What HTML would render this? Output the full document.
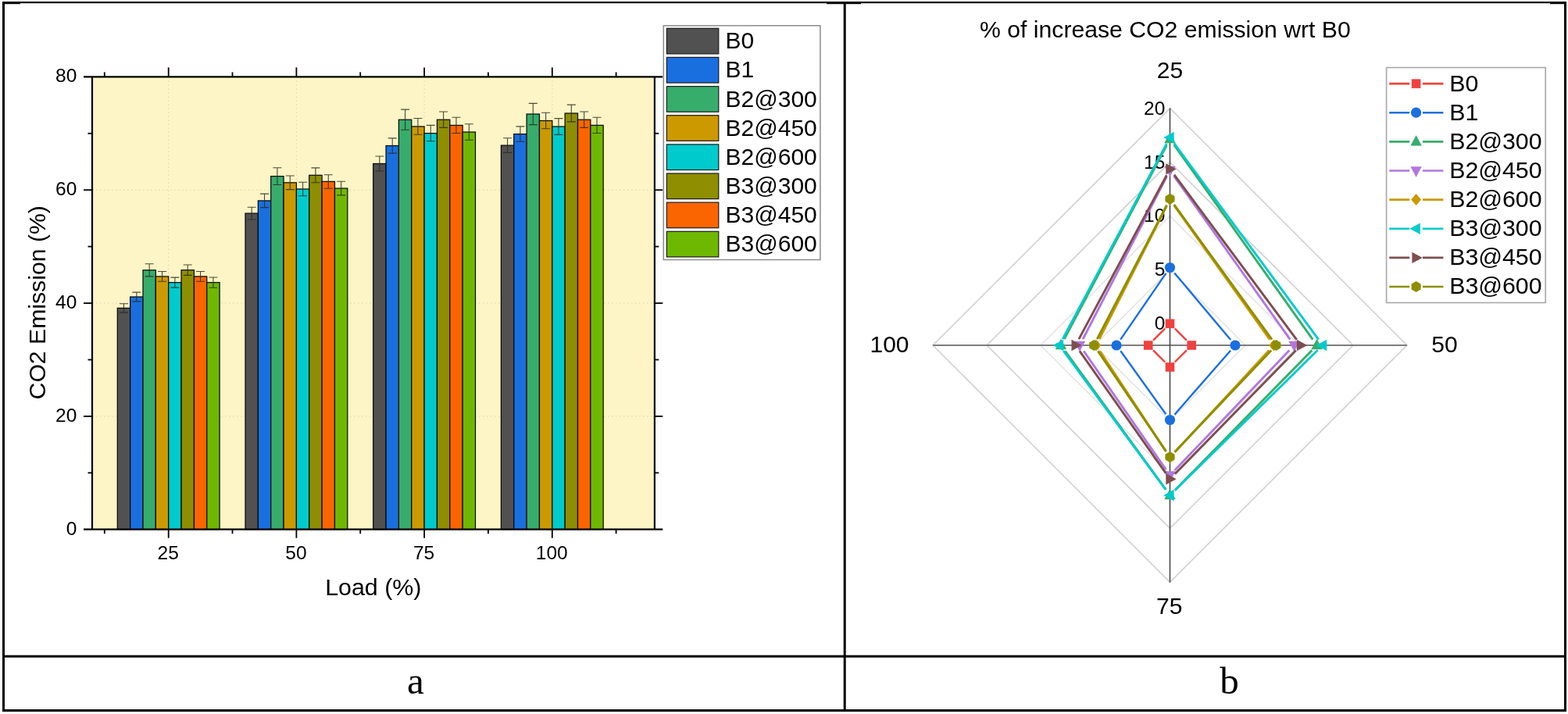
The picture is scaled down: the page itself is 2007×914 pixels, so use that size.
<!DOCTYPE html>
<html lang="en"><head><meta charset="utf-8"><title>CO2 emission charts</title>
<style>html,body{margin:0;padding:0;background:#fff;}body{width:2007px;height:914px;overflow:hidden;}svg{display:block;}text{font-family:"Liberation Sans",Arial,sans-serif;fill:#000;}.ser{font-family:"Liberation Serif","Times New Roman",serif;}</style></head><body>
<svg width="2007" height="914" viewBox="0 0 2007 914">
<rect x="0" y="0" width="2007" height="914" fill="#ffffff"/>
<g id="frame" fill="#000">
<rect x="3" y="2" width="2002" height="2.2"/>
<rect x="3" y="2" width="23" height="3.2"/>
<rect x="1058" y="2" width="44" height="3.2"/>
<rect x="1984" y="2" width="21" height="3.2"/>
<rect x="3" y="2" width="3" height="909"/>
<rect x="2002" y="2" width="3" height="909"/>
<rect x="1079.7" y="2" width="3" height="909"/>
<rect x="3" y="838.7" width="2002" height="3"/>
<rect x="3" y="908" width="2002" height="3"/>
</g>
<g id="bar-chart">
<rect x="118.0" y="98.4" width="719.9" height="579.3" fill="#fef5c6"/>
<g stroke="#d9d2b4" stroke-width="1" stroke-dasharray="1.5 3.5" fill="none">
<line x1="215.7" y1="98.4" x2="215.7" y2="677.7"/>
<line x1="379.4" y1="98.4" x2="379.4" y2="677.7"/>
<line x1="543.1" y1="98.4" x2="543.1" y2="677.7"/>
<line x1="706.8" y1="98.4" x2="706.8" y2="677.7"/>
<line x1="118.0" y1="532.9" x2="837.9" y2="532.9"/>
<line x1="118.0" y1="388.1" x2="837.9" y2="388.1"/>
<line x1="118.0" y1="243.2" x2="837.9" y2="243.2"/>
</g>
<g stroke="#0a0a0a" stroke-width="1.25">
<rect x="150.30" y="394.4" width="16.35" height="283.3" fill="#515151"/>
<rect x="166.65" y="380.0" width="16.35" height="297.7" fill="#1a6fdf"/>
<rect x="183.00" y="345.8" width="16.35" height="331.9" fill="#37ad6b"/>
<rect x="199.35" y="353.9" width="16.35" height="323.8" fill="#cc9900"/>
<rect x="215.70" y="361.6" width="16.35" height="316.1" fill="#00cbcc"/>
<rect x="232.05" y="345.7" width="16.35" height="332.0" fill="#8e8e00"/>
<rect x="248.40" y="353.9" width="16.35" height="323.8" fill="#fb6501"/>
<rect x="264.75" y="361.6" width="16.35" height="316.1" fill="#6fb802"/>
<rect x="314.00" y="273.1" width="16.35" height="404.6" fill="#515151"/>
<rect x="330.35" y="256.9" width="16.35" height="420.8" fill="#1a6fdf"/>
<rect x="346.70" y="225.6" width="16.35" height="452.1" fill="#37ad6b"/>
<rect x="363.05" y="233.8" width="16.35" height="443.9" fill="#cc9900"/>
<rect x="379.40" y="242.0" width="16.35" height="435.7" fill="#00cbcc"/>
<rect x="395.75" y="224.3" width="16.35" height="453.4" fill="#8e8e00"/>
<rect x="412.10" y="232.4" width="16.35" height="445.3" fill="#fb6501"/>
<rect x="428.45" y="241.1" width="16.35" height="436.6" fill="#6fb802"/>
<rect x="477.70" y="209.5" width="16.35" height="468.2" fill="#515151"/>
<rect x="494.05" y="186.5" width="16.35" height="491.2" fill="#1a6fdf"/>
<rect x="510.40" y="153.2" width="16.35" height="524.5" fill="#37ad6b"/>
<rect x="526.75" y="161.9" width="16.35" height="515.8" fill="#cc9900"/>
<rect x="543.10" y="170.6" width="16.35" height="507.1" fill="#00cbcc"/>
<rect x="559.45" y="153.2" width="16.35" height="524.5" fill="#8e8e00"/>
<rect x="575.80" y="160.4" width="16.35" height="517.3" fill="#fb6501"/>
<rect x="592.15" y="169.0" width="16.35" height="508.7" fill="#6fb802"/>
<rect x="641.40" y="186.1" width="16.35" height="491.6" fill="#515151"/>
<rect x="657.75" y="171.6" width="16.35" height="506.1" fill="#1a6fdf"/>
<rect x="674.10" y="146.0" width="16.35" height="531.7" fill="#37ad6b"/>
<rect x="690.45" y="154.5" width="16.35" height="523.2" fill="#cc9900"/>
<rect x="706.80" y="162.0" width="16.35" height="515.7" fill="#00cbcc"/>
<rect x="723.15" y="145.0" width="16.35" height="532.7" fill="#8e8e00"/>
<rect x="739.50" y="153.2" width="16.35" height="524.5" fill="#fb6501"/>
<rect x="755.85" y="160.4" width="16.35" height="517.3" fill="#6fb802"/>
</g>
<g stroke="#2a2a20" stroke-width="1.1" fill="none" stroke-opacity="0.85">
<path d="M158.47 388.7V400.1M152.97 388.7h11M152.97 400.1h11"/>
<path d="M174.82 374.1V385.9M169.32 374.1h11M169.32 385.9h11"/>
<path d="M191.17 337.7V353.9M185.67 337.7h11M185.67 353.9h11"/>
<path d="M207.52 347.5V360.2M202.02 347.5h11M202.02 360.2h11"/>
<path d="M223.88 355.1V368.1M218.38 355.1h11M218.38 368.1h11"/>
<path d="M240.22 339.0V352.4M234.72 339.0h11M234.72 352.4h11"/>
<path d="M256.57 347.5V360.2M251.07 347.5h11M251.07 360.2h11"/>
<path d="M272.93 355.0V368.2M267.43 355.0h11M267.43 368.2h11"/>
<path d="M322.17 265.2V281.0M316.67 265.2h11M316.67 281.0h11"/>
<path d="M338.52 248.1V265.6M333.02 248.1h11M333.02 265.6h11"/>
<path d="M354.88 214.7V236.5M349.38 214.7h11M349.38 236.5h11"/>
<path d="M371.22 225.0V242.6M365.72 225.0h11M365.72 242.6h11"/>
<path d="M387.57 233.2V250.8M382.07 233.2h11M382.07 250.8h11"/>
<path d="M403.92 214.9V233.7M398.42 214.9h11M398.42 233.7h11"/>
<path d="M420.27 223.7V241.2M414.77 223.7h11M414.77 241.2h11"/>
<path d="M436.62 232.2V249.9M431.12 232.2h11M431.12 249.9h11"/>
<path d="M485.87 200.0V219.0M480.37 200.0h11M480.37 219.0h11"/>
<path d="M502.22 176.9V196.1M496.72 176.9h11M496.72 196.1h11"/>
<path d="M518.57 140.1V166.3M513.07 140.1h11M513.07 166.3h11"/>
<path d="M534.92 151.5V172.3M529.42 151.5h11M529.42 172.3h11"/>
<path d="M551.27 160.4V180.8M545.77 160.4h11M545.77 180.8h11"/>
<path d="M567.62 143.0V163.4M562.12 143.0h11M562.12 163.4h11"/>
<path d="M583.97 150.3V170.5M578.47 150.3h11M578.47 170.5h11"/>
<path d="M600.32 158.8V179.2M594.82 158.8h11M594.82 179.2h11"/>
<path d="M649.57 176.8V195.4M644.07 176.8h11M644.07 195.4h11"/>
<path d="M665.92 161.9V181.2M660.42 161.9h11M660.42 181.2h11"/>
<path d="M682.27 132.4V159.6M676.77 132.4h11M676.77 159.6h11"/>
<path d="M698.62 144.2V164.8M693.12 144.2h11M693.12 164.8h11"/>
<path d="M714.97 151.6V172.4M709.47 151.6h11M709.47 172.4h11"/>
<path d="M731.32 134.1V155.9M725.82 134.1h11M725.82 155.9h11"/>
<path d="M747.67 143.0V163.4M742.17 143.0h11M742.17 163.4h11"/>
<path d="M764.02 150.3V170.5M758.52 150.3h11M758.52 170.5h11"/>
</g>
<g stroke="#000" stroke-width="2.2" fill="none" stroke-linecap="butt">
<line x1="107" y1="98.4" x2="848.3" y2="98.4"/>
<line x1="107" y1="677.7" x2="848.3" y2="677.7"/>
<line x1="118.0" y1="98.4" x2="118.0" y2="677.7"/>
<line x1="837.9" y1="98.4" x2="837.9" y2="677.7"/>
</g>
<g stroke="#000" stroke-width="1.8" fill="none">
<line x1="215.7" y1="98.4" x2="215.7" y2="86.4"/>
<line x1="215.7" y1="677.7" x2="215.7" y2="688.7"/>
<line x1="379.4" y1="98.4" x2="379.4" y2="86.4"/>
<line x1="379.4" y1="677.7" x2="379.4" y2="688.7"/>
<line x1="543.1" y1="98.4" x2="543.1" y2="86.4"/>
<line x1="543.1" y1="677.7" x2="543.1" y2="688.7"/>
<line x1="706.8" y1="98.4" x2="706.8" y2="86.4"/>
<line x1="706.8" y1="677.7" x2="706.8" y2="688.7"/>
<line x1="133.8" y1="98.4" x2="133.8" y2="92.4"/>
<line x1="133.8" y1="677.7" x2="133.8" y2="683.2"/>
<line x1="297.5" y1="98.4" x2="297.5" y2="92.4"/>
<line x1="297.5" y1="677.7" x2="297.5" y2="683.2"/>
<line x1="461.2" y1="98.4" x2="461.2" y2="92.4"/>
<line x1="461.2" y1="677.7" x2="461.2" y2="683.2"/>
<line x1="624.9" y1="98.4" x2="624.9" y2="92.4"/>
<line x1="624.9" y1="677.7" x2="624.9" y2="683.2"/>
<line x1="788.6" y1="98.4" x2="788.6" y2="92.4"/>
<line x1="788.6" y1="677.7" x2="788.6" y2="683.2"/>
<line x1="107" y1="532.9" x2="118.0" y2="532.9"/>
<line x1="837.9" y1="532.9" x2="848.3" y2="532.9"/>
<line x1="107" y1="388.1" x2="118.0" y2="388.1"/>
<line x1="837.9" y1="388.1" x2="848.3" y2="388.1"/>
<line x1="107" y1="243.2" x2="118.0" y2="243.2"/>
<line x1="837.9" y1="243.2" x2="848.3" y2="243.2"/>
<line x1="112.5" y1="605.3" x2="118.0" y2="605.3"/>
<line x1="837.9" y1="605.3" x2="843.3" y2="605.3"/>
<line x1="112.5" y1="460.5" x2="118.0" y2="460.5"/>
<line x1="837.9" y1="460.5" x2="843.3" y2="460.5"/>
<line x1="112.5" y1="315.6" x2="118.0" y2="315.6"/>
<line x1="837.9" y1="315.6" x2="843.3" y2="315.6"/>
<line x1="112.5" y1="170.8" x2="118.0" y2="170.8"/>
<line x1="837.9" y1="170.8" x2="843.3" y2="170.8"/>
</g>
<g font-size="24.5px">
<text x="98.3" y="684.5" text-anchor="end">0</text>
<text x="98.3" y="539.7" text-anchor="end">20</text>
<text x="98.3" y="394.9" text-anchor="end">40</text>
<text x="98.3" y="250.0" text-anchor="end">60</text>
<text x="98.3" y="105.2" text-anchor="end">80</text>
<text x="215.2" y="715.5" text-anchor="middle">25</text>
<text x="378.9" y="715.5" text-anchor="middle">50</text>
<text x="542.6" y="715.5" text-anchor="middle">75</text>
<text x="706.3" y="715.5" text-anchor="middle">100</text>
</g>
<text x="477.8" y="762.3" font-size="30.4px" text-anchor="middle">Load (%)</text>
<text transform="translate(57.6 387.3) rotate(-90)" font-size="30.2px" text-anchor="middle">CO2 Emission (%)</text>
<g id="bar-legend">
<rect x="849.3" y="32.8" width="200.6" height="299.7" fill="#fff" stroke="#8c8c8c" stroke-width="1.5"/>
<rect x="853.4" y="36.3" width="66.4" height="32.6" fill="#515151" stroke="#1a1a1a" stroke-width="1.2"/>
<text x="928.6" y="62.2" font-size="30px">B0</text>
<rect x="853.4" y="73.4" width="66.4" height="32.6" fill="#1a6fdf" stroke="#1a1a1a" stroke-width="1.2"/>
<text x="928.6" y="99.3" font-size="30px">B1</text>
<rect x="853.4" y="110.6" width="66.4" height="32.6" fill="#37ad6b" stroke="#1a1a1a" stroke-width="1.2"/>
<text x="928.6" y="136.5" font-size="30px">B2@300</text>
<rect x="853.4" y="147.7" width="66.4" height="32.6" fill="#cc9900" stroke="#1a1a1a" stroke-width="1.2"/>
<text x="928.6" y="173.6" font-size="30px">B2@450</text>
<rect x="853.4" y="184.9" width="66.4" height="32.6" fill="#00cbcc" stroke="#1a1a1a" stroke-width="1.2"/>
<text x="928.6" y="210.8" font-size="30px">B2@600</text>
<rect x="853.4" y="222.0" width="66.4" height="32.6" fill="#8e8e00" stroke="#1a1a1a" stroke-width="1.2"/>
<text x="928.6" y="247.9" font-size="30px">B3@300</text>
<rect x="853.4" y="259.1" width="66.4" height="32.6" fill="#fb6501" stroke="#1a1a1a" stroke-width="1.2"/>
<text x="928.6" y="285.0" font-size="30px">B3@450</text>
<rect x="853.4" y="296.3" width="66.4" height="32.6" fill="#6fb802" stroke="#1a1a1a" stroke-width="1.2"/>
<text x="928.6" y="322.2" font-size="30px">B3@600</text>
</g>
</g>
<g id="radar-chart">
<text x="1491.4" y="48" font-size="30.2px" text-anchor="middle" fill="#1c1c1c">% of increase CO2 emission wrt B0</text>
<g fill="none">
<path d="M1497.5 414.4L1525.1 442.0L1497.5 469.6L1469.9 442.0Z" stroke="#e0e0e0" stroke-width="1.3"/>
<path d="M1497.5 345.5L1594.0 442.0L1497.5 538.5L1401.0 442.0Z" stroke="#e0e0e0" stroke-width="1.3"/>
<path d="M1497.5 276.5L1663.0 442.0L1497.5 607.5L1332.0 442.0Z" stroke="#e0e0e0" stroke-width="1.3"/>
<path d="M1497.5 207.6L1731.9 442.0L1497.5 676.4L1263.1 442.0Z" stroke="#d2d2d2" stroke-width="1.7"/>
<path d="M1497.5 138.6L1800.9 442.0L1497.5 745.4L1194.1 442.0Z" stroke="#d2d2d2" stroke-width="1.7"/>
</g>
<line x1="1194.1" y1="442.0" x2="1800.9" y2="442.0" stroke="#7d7d7d" stroke-width="2"/>
<line x1="1497.5" y1="138.6" x2="1497.5" y2="745.4" stroke="#4a4a4a" stroke-width="1.6"/>
<g font-size="24.5px" fill="#111">
<text x="1491.3" y="422.3" text-anchor="end">0</text>
<text x="1491.3" y="353.4" text-anchor="end">5</text>
<text x="1491.3" y="284.4" text-anchor="end">10</text>
<text x="1491.3" y="215.5" text-anchor="end">15</text>
<text x="1491.3" y="146.5" text-anchor="end">20</text>
</g>
<g font-size="30px" fill="#111">
<text x="1497.5" y="100.4" text-anchor="middle">25</text>
<text x="1849" y="451.3" text-anchor="middle">50</text>
<text x="1496.8" y="785.5" text-anchor="middle">75</text>
<text x="1138.5" y="451.3" text-anchor="middle">100</text>
</g>
<path d="M1503.9 420.7L1518.8 435.6M1518.9 448.4L1503.8 463.5M1491.1 463.5L1476.1 448.4M1476.1 435.6L1491.1 420.7" stroke="#f14040" stroke-width="2.4" fill="none"/>
<rect x="1491.7" y="408.5" width="11.6" height="11.6" fill="#f14040"/>
<rect x="1519.4" y="436.2" width="11.6" height="11.6" fill="#f14040"/>
<rect x="1491.7" y="464.1" width="11.6" height="11.6" fill="#f14040"/>
<rect x="1463.9" y="436.2" width="11.6" height="11.6" fill="#f14040"/>
<path d="M1503.3 349.4L1575.2 435.1M1575.1 448.8L1503.4 530.7M1492.3 530.2L1434.3 449.3M1434.2 434.6L1492.4 349.9" stroke="#1a6fdf" stroke-width="2.4" fill="none"/>
<circle cx="1497.5" cy="342.5" r="6.6" fill="#1a6fdf"/>
<circle cx="1581.0" cy="442.0" r="6.6" fill="#1a6fdf"/>
<circle cx="1497.5" cy="537.5" r="6.6" fill="#1a6fdf"/>
<circle cx="1429.1" cy="442.0" r="6.6" fill="#1a6fdf"/>
<path d="M1502.7 185.3L1680.3 434.7M1679.2 448.4L1503.8 627.6M1492.2 626.7L1363.3 449.3M1362.2 434.0L1493.3 186.0" stroke="#37ad6b" stroke-width="2.9" fill="none"/>
<polygon points="1497.5,169.8 1504.7,183.2 1490.3,183.2" fill="#37ad6b"/>
<polygon points="1685.5,433.8 1692.7,447.2 1678.3,447.2" fill="#37ad6b"/>
<polygon points="1497.5,625.8 1504.7,639.2 1490.3,639.2" fill="#37ad6b"/>
<polygon points="1358.0,433.8 1365.2,447.2 1350.8,447.2" fill="#37ad6b"/>
<path d="M1502.7 225.3L1651.3 434.7M1650.3 448.5L1503.7 602.0M1492.4 601.1L1387.1 449.4M1386.1 434.0L1493.4 226.0" stroke="#b177de" stroke-width="2.9" fill="none"/>
<polygon points="1497.5,226.2 1504.7,212.8 1490.3,212.8" fill="#b177de"/>
<polygon points="1656.5,450.2 1663.7,436.8 1649.3,436.8" fill="#b177de"/>
<polygon points="1497.5,616.7 1504.7,603.3 1490.3,603.3" fill="#b177de"/>
<polygon points="1382.0,450.2 1389.2,436.8 1374.8,436.8" fill="#b177de"/>
<path d="M1502.7 262.8L1625.3 434.7M1624.4 448.6L1503.6 578.9M1492.6 578.0L1407.9 449.5M1407.1 434.0L1493.4 263.5" stroke="#cc9900" stroke-width="2.9" fill="none"/>
<polygon points="1497.5,248.0 1504.0,255.5 1497.5,263.0 1491.0,255.5" fill="#cc9900"/>
<polygon points="1630.5,434.5 1637.0,442.0 1630.5,449.5 1624.0,442.0" fill="#cc9900"/>
<polygon points="1497.5,578.0 1504.0,585.5 1497.5,593.0 1491.0,585.5" fill="#cc9900"/>
<polygon points="1403.0,434.5 1409.5,442.0 1403.0,449.5 1396.5,442.0" fill="#cc9900"/>
<path d="M1502.8 183.3L1687.7 434.7M1686.6 448.3L1503.9 627.7M1492.2 626.8L1361.2 449.2M1360.1 434.1L1493.3 183.9" stroke="#00cbcc" stroke-width="2.9" fill="none"/>
<polygon points="1489.3,176.0 1502.7,168.8 1502.7,183.2" fill="#00cbcc"/>
<polygon points="1684.8,442.0 1698.2,434.8 1698.2,449.2" fill="#00cbcc"/>
<polygon points="1489.3,634.0 1502.7,626.8 1502.7,641.2" fill="#00cbcc"/>
<polygon points="1347.7,442.0 1361.1,434.8 1361.1,449.2" fill="#00cbcc"/>
<path d="M1502.9 223.6L1659.7 434.8M1658.8 448.4L1503.8 606.8M1492.3 605.8L1381.9 449.4M1380.9 434.1L1493.3 224.3" stroke="#7d4e4e" stroke-width="2.9" fill="none"/>
<polygon points="1505.7,216.4 1492.3,209.2 1492.3,223.6" fill="#7d4e4e"/>
<polygon points="1673.3,442.0 1659.9,434.8 1659.9,449.2" fill="#7d4e4e"/>
<polygon points="1505.7,613.2 1492.3,606.0 1492.3,620.4" fill="#7d4e4e"/>
<polygon points="1384.9,442.0 1371.5,434.8 1371.5,449.2" fill="#7d4e4e"/>
<path d="M1502.8 261.9L1628.1 434.7M1627.2 448.5L1503.7 578.5M1492.4 577.6L1405.3 449.4M1404.3 434.0L1493.4 262.6" stroke="#8e8e00" stroke-width="2.9" fill="none"/>
<polygon points="1503.5,258.1 1497.5,261.5 1491.5,258.1 1491.5,251.2 1497.5,247.7 1503.5,251.1" fill="#8e8e00"/>
<polygon points="1639.4,445.4 1633.4,448.9 1627.4,445.4 1627.4,438.6 1633.4,435.1 1639.4,438.6" fill="#8e8e00"/>
<polygon points="1503.5,588.5 1497.5,591.9 1491.5,588.5 1491.5,581.5 1497.5,578.1 1503.5,581.5" fill="#8e8e00"/>
<polygon points="1406.2,445.4 1400.2,448.9 1394.2,445.4 1394.2,438.6 1400.2,435.1 1406.2,438.6" fill="#8e8e00"/>
<g id="radar-legend">
<rect x="1774.6" y="86.5" width="203.6" height="301" fill="#fff" stroke="#a8a8a8" stroke-width="1.6"/>
<path d="M1778.2 107.1H1804.2M1821 107.1H1847.4" stroke="#f14040" stroke-width="2.6" fill="none"/>
<rect x="1806.8" y="101.3" width="11.6" height="11.6" fill="#f14040"/>
<text x="1855.2" y="116.5" font-size="30.3px">B0</text>
<path d="M1778.2 144.2H1804.2M1821 144.2H1847.4" stroke="#1a6fdf" stroke-width="2.6" fill="none"/>
<circle cx="1812.6" cy="144.2" r="6.6" fill="#1a6fdf"/>
<text x="1855.2" y="153.6" font-size="30.3px">B1</text>
<path d="M1778.2 181.4H1804.2M1821 181.4H1847.4" stroke="#37ad6b" stroke-width="2.6" fill="none"/>
<polygon points="1812.6,173.2 1819.8,186.6 1805.4,186.6" fill="#37ad6b"/>
<text x="1855.2" y="190.8" font-size="30.3px">B2@300</text>
<path d="M1778.2 218.5H1804.2M1821 218.5H1847.4" stroke="#b177de" stroke-width="2.6" fill="none"/>
<polygon points="1812.6,226.7 1819.8,213.3 1805.4,213.3" fill="#b177de"/>
<text x="1855.2" y="227.9" font-size="30.3px">B2@450</text>
<path d="M1778.2 255.6H1804.2M1821 255.6H1847.4" stroke="#cc9900" stroke-width="2.6" fill="none"/>
<polygon points="1812.6,248.1 1819.1,255.6 1812.6,263.1 1806.1,255.6" fill="#cc9900"/>
<text x="1855.2" y="265.0" font-size="30.3px">B2@600</text>
<path d="M1778.2 292.8H1804.2M1821 292.8H1847.4" stroke="#00cbcc" stroke-width="2.6" fill="none"/>
<polygon points="1804.4,292.8 1817.8,285.6 1817.8,299.9" fill="#00cbcc"/>
<text x="1855.2" y="302.1" font-size="30.3px">B3@300</text>
<path d="M1778.2 329.9H1804.2M1821 329.9H1847.4" stroke="#7d4e4e" stroke-width="2.6" fill="none"/>
<polygon points="1820.8,329.9 1807.4,322.7 1807.4,337.1" fill="#7d4e4e"/>
<text x="1855.2" y="339.3" font-size="30.3px">B3@450</text>
<path d="M1778.2 367.0H1804.2M1821 367.0H1847.4" stroke="#8e8e00" stroke-width="2.6" fill="none"/>
<polygon points="1818.6,370.5 1812.6,373.9 1806.6,370.5 1806.6,363.6 1812.6,360.1 1818.6,363.6" fill="#8e8e00"/>
<text x="1855.2" y="376.4" font-size="30.3px">B3@600</text>
</g>
</g>
<text class="ser" x="531.8" y="887.5" font-size="49px" text-anchor="middle">a</text>
<text class="ser" x="1573.6" y="887.5" font-size="49px" text-anchor="middle">b</text>
</svg></body></html>
